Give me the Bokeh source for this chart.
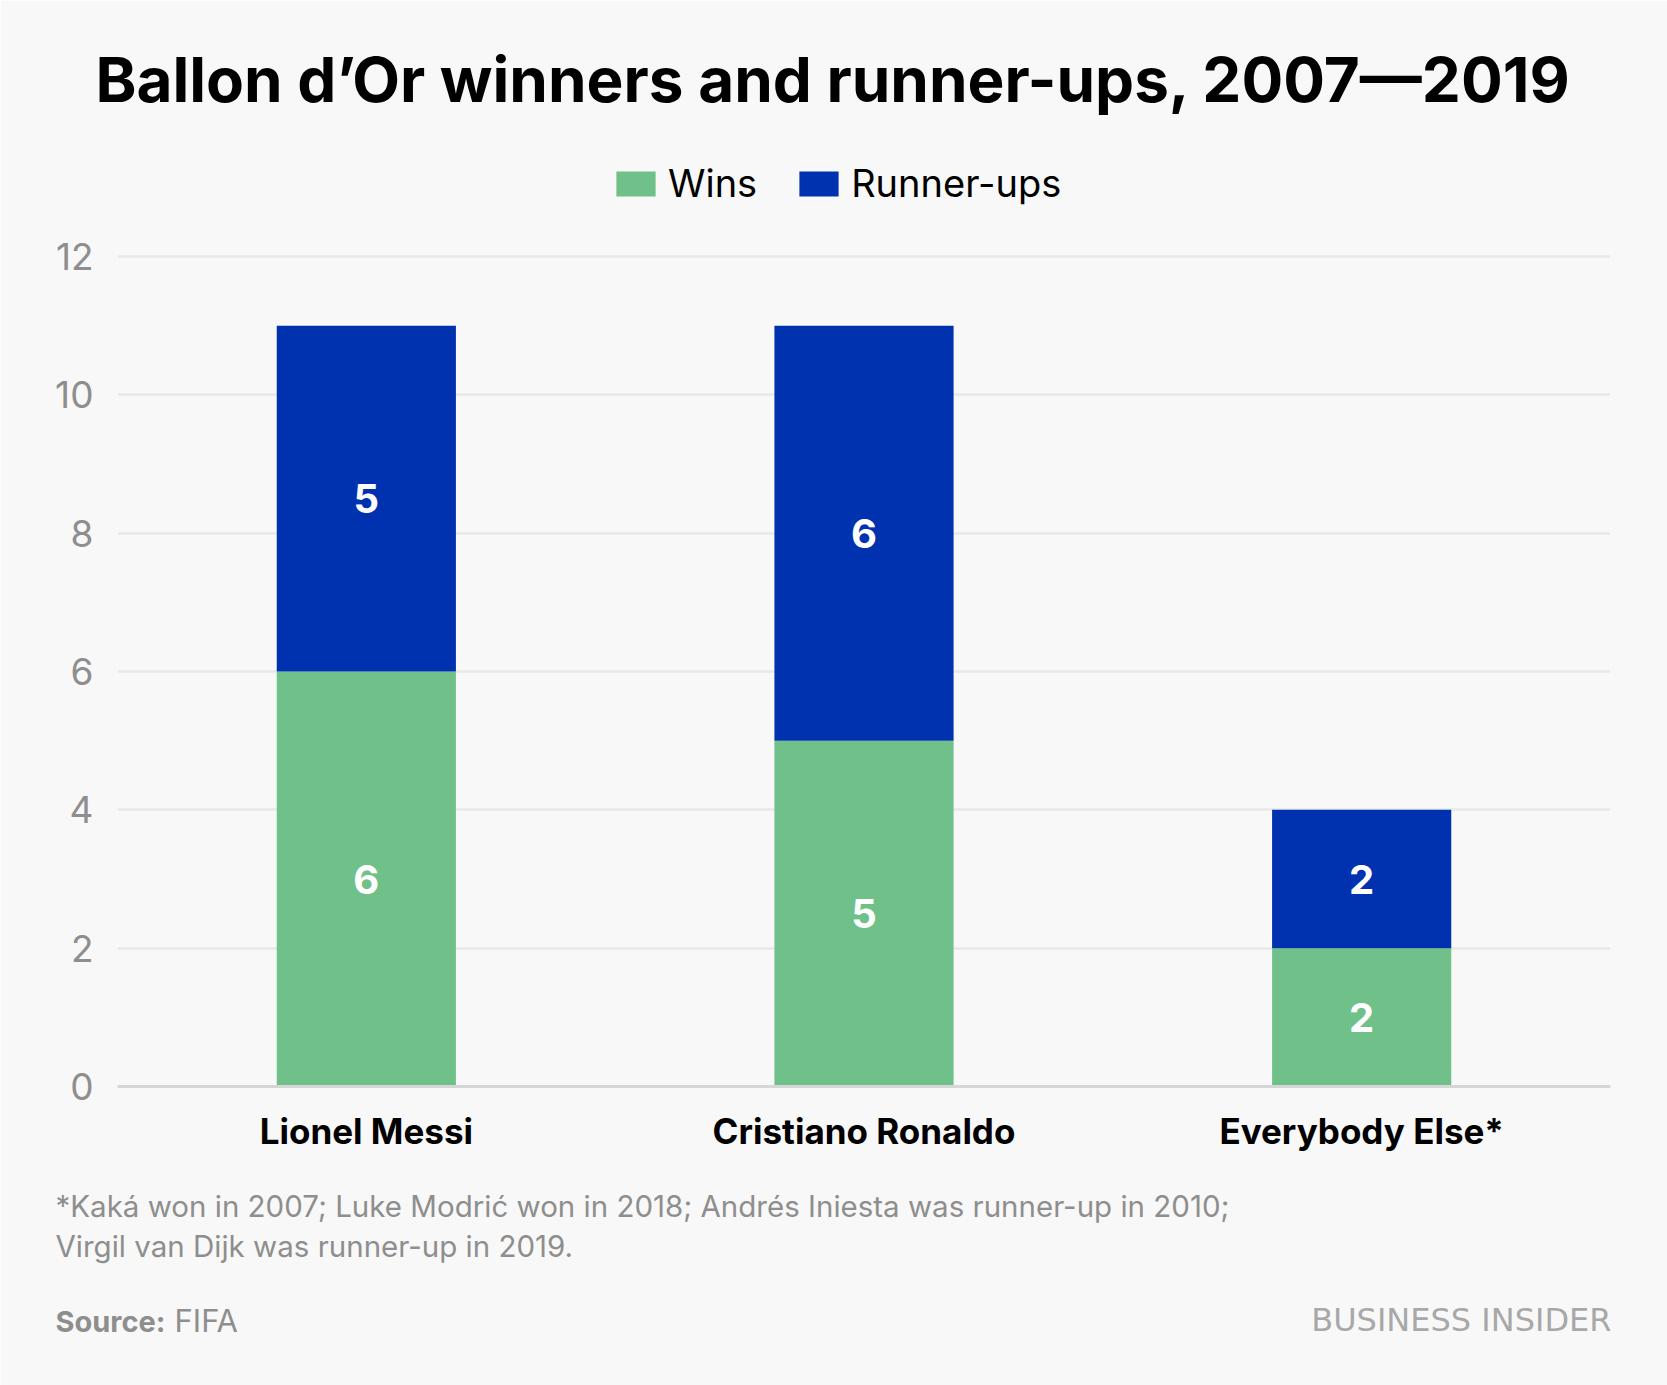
from bokeh.plotting import figure
from bokeh.models import (ColumnDataSource, FactorRange, Range1d, Label, LabelSet, Legend,
                          LegendItem, FixedTicker)
from bokeh.core.properties import value
from bokeh.embed import file_html
from bokeh.resources import INLINE

# ---- data ----
players = ["Lionel Messi", "Cristiano Ronaldo", "Everybody Else*"]
wins = [6, 5, 2]
runner_ups = [5, 6, 2]
series = ["Wins", "Runner-ups"]
colors = ["#70C08A", "#0031AF"]
y_ticks = [0, 2, 4, 6, 8, 10, 12]

title_text = "Ballon d\u2019Or winners and runner-ups, 2007\u20142019"
note_lines = ["*Kak\u00e1 won in 2007; Luke Modri\u0107 won in 2018; Andr\u00e9s Iniesta was runner-up in 2010;",
              "Virgil van Dijk was runner-up in 2019."]
source_label = "Source:"
source_text = "FIFA"
brand = "BUSINESS INSIDER"

FONT = "Inter"
BG = "#F8F8F8"
GRAY = "#8E8E8E"

# ---- layout constants (pixels) ----
W, H = 1667, 1385
F_LEFT, F_RIGHT, F_TOP, F_BOTTOM = 117, 1610, 100, 1086
PX = (F_BOTTOM - 256) / 12.0          # pixels per unit: the 12 gridline sits at y=256
Y_END = (F_BOTTOM - F_TOP) / PX       # frame reaches up to the legend row


def ydat(page_y):
    return (F_BOTTOM - page_y) / PX


src = ColumnDataSource(dict(players=players, Wins=wins, **{"Runner-ups": runner_ups}))
p = figure(x_range=FactorRange(*players, range_padding=0), y_range=Range1d(0, Y_END),
           width=W, height=H, output_backend="svg", toolbar_location=None, title_location=None,
           min_border_left=F_LEFT, min_border_right=W - F_RIGHT,
           min_border_top=F_TOP, min_border_bottom=H - F_BOTTOM)
p.background_fill_color = BG
p.border_fill_color = BG
p.outline_line_color = None

rs = p.vbar_stack(series, x="players", width=0.36, color=colors, source=src, line_color=None)

# value labels in the middle of each segment
lx, ly, lt = [], [], []
for i, name in enumerate(players):
    lx += [name, name]
    ly += [wins[i] / 2, wins[i] + runner_ups[i] / 2]
    lt += [str(wins[i]), str(runner_ups[i])]
lab_src = ColumnDataSource(dict(x=lx, y=ly, t=lt))
p.add_layout(LabelSet(x="x", y="y", text="t", source=lab_src, text_align="center",
                      text_baseline="middle", text_color="white", text_font=value(FONT),
                      text_font_size="40px", text_font_style="bold"))

# axes and grid
p.yaxis.ticker = FixedTicker(ticks=y_ticks)
p.yaxis.axis_line_color = None
p.yaxis.major_tick_line_color = None
p.yaxis.minor_tick_line_color = None
p.yaxis.major_label_standoff = 18
p.yaxis.major_label_text_font = FONT
p.yaxis.major_label_text_font_size = "37px"
p.yaxis.major_label_text_color = GRAY

p.xaxis.axis_line_color = "#D6D6D6"
p.xaxis.axis_line_width = 3
p.xaxis.major_tick_line_color = None
p.xaxis.minor_tick_line_color = None
p.xaxis.major_label_standoff = 17
p.xaxis.major_label_text_font = FONT
p.xaxis.major_label_text_font_size = "35px"
p.xaxis.major_label_text_font_style = "bold"
p.xaxis.major_label_text_color = "#000000"

p.xgrid.grid_line_color = None
p.ygrid.grid_line_color = "#E8E8E8"
p.ygrid.grid_line_width = 2.5

# legend (inside the tall frame, above the 12 gridline); legend swatches are drawn at 80 %
legend = Legend(items=[LegendItem(label=s, renderers=[r]) for s, r in zip(series, rs)],
                orientation="horizontal", location=(611 - F_LEFT, F_BOTTOM - 206),
                glyph_width=49, glyph_height=31,
                label_standoff=8, spacing=37, padding=0, margin=0,
                border_line_color=None, background_fill_alpha=0,
                label_text_font=FONT, label_text_font_size="38px", label_text_color="#000000")
p.add_layout(legend, "center")


def add_text(side, page_x, page_y, text, size, color, align="left", bold=False, font=FONT):
    # page_y is the baseline; Bokeh sets the text ~0.39 em lower than the given point
    p.add_layout(Label(x=page_x - F_LEFT, y=ydat(page_y - 0.39 * size), x_units="screen",
                       y_units="data", text=text, text_align=align, text_baseline="alphabetic",
                       text_font=font, text_font_size=f"{size}px",
                       text_font_style="bold" if bold else "normal", text_color=color), side)


add_text("above", 833, 103, title_text, 62, "#000000", align="center", bold=True)
add_text("below", 55, 1217, note_lines[0], 29.5, GRAY)
add_text("below", 55, 1257, note_lines[1], 29.5, GRAY)
add_text("below", 55, 1332, source_label, 29, GRAY, bold=True)
add_text("below", 174, 1332, source_text, 31, GRAY)
add_text("below", 1611, 1332, brand, 32, "#A8A8A8", align="right", font="DejaVu Sans")

open("out.html", "w").write(file_html(p, INLINE))
